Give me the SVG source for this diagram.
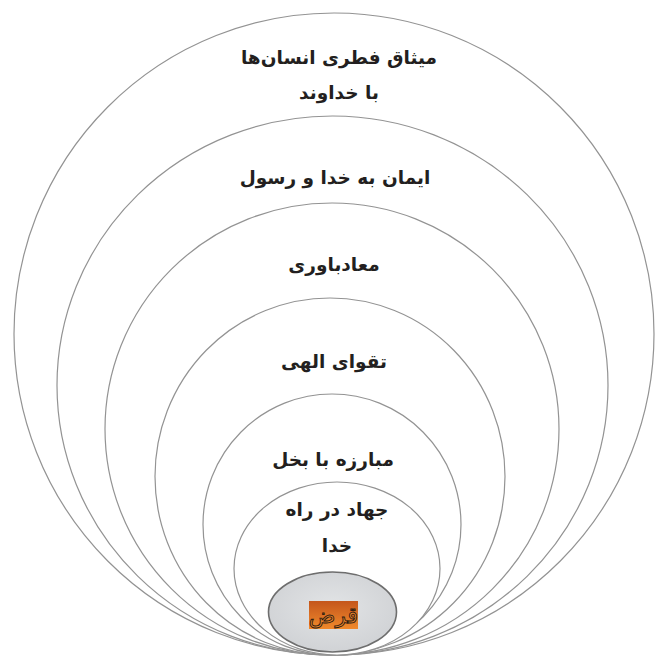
<svg xmlns="http://www.w3.org/2000/svg" width="657" height="660" viewBox="0 0 657 660">
<defs>
<linearGradient id="og" x1="0" y1="0" x2="0" y2="1">
<stop offset="0" stop-color="#c4561c"/>
<stop offset="1" stop-color="#f0892b"/>
</linearGradient>
<radialGradient id="gg" cx="0.5" cy="0.45" r="0.6">
<stop offset="0" stop-color="#e2e4e6"/>
<stop offset="1" stop-color="#cfd1d4"/>
</radialGradient>
</defs>
<style>
.ring{fill:#ffffff;stroke:#939393;stroke-width:1.2}
.lbl{font-family:"DejaVu Sans","Noto Sans",sans-serif;font-weight:bold;font-size:18.5px;fill:#231f20;text-anchor:middle;direction:rtl}
.core{fill:url(#gg);stroke:#6e6e6e;stroke-width:1.6}
.cl{font-family:"DejaVu Sans",sans-serif;font-size:22px;fill:#e8802a;stroke:#2a1a10;stroke-width:0.9;text-anchor:middle;direction:rtl}
</style>
<g id="ring1"><ellipse class="ring" cx="334" cy="334" rx="320" ry="321"/>
<text class="lbl" x="339" y="64">میثاق فطری انسان‌ها</text>
<text class="lbl" x="339" y="99">با خداوند</text></g>
<g id="ring2"><ellipse class="ring" cx="332.5" cy="385.5" rx="275.5" ry="269.5"/>
<text class="lbl" x="335" y="184">ایمان به خدا و رسول</text></g>
<g id="ring3"><ellipse class="ring" cx="332" cy="429" rx="227" ry="226"/>
<text class="lbl" x="334" y="271">معادباوری</text></g>
<g id="ring4"><ellipse class="ring" cx="330" cy="476.5" rx="175" ry="178.5"/>
<text class="lbl" x="334" y="368">تقوای الهی</text></g>
<g id="ring5"><ellipse class="ring" cx="332" cy="524.5" rx="129" ry="130.5"/>
<text class="lbl" x="333" y="466">مبارزه با بخل</text></g>
<g id="ring6"><ellipse class="ring" cx="337" cy="568.5" rx="103" ry="86.5"/>
<text class="lbl" x="337" y="516">جهاد در راه</text>
<text class="lbl" x="337" y="552">خدا</text></g>
<g id="core"><ellipse class="core" cx="332.5" cy="612" rx="64" ry="40"/>
<rect x="309" y="601" width="49" height="28" fill="url(#og)"/>
<text class="cl" x="333.5" y="623">قرض</text></g>
</svg>
